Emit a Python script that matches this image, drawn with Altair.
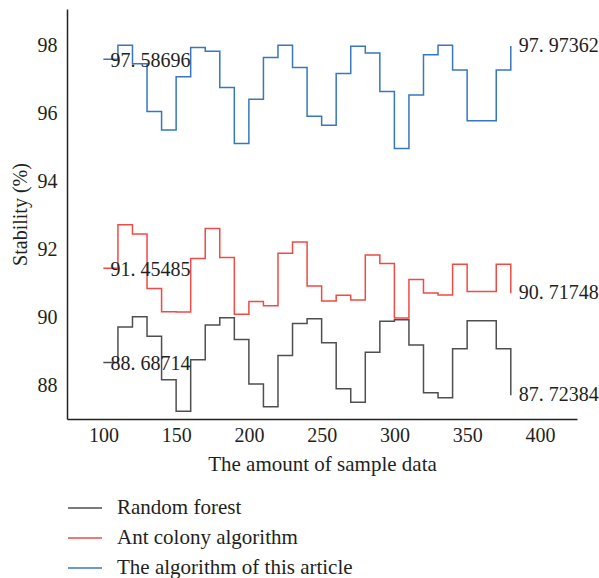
import altair as alt
import pandas as pd

# ---- data ----
x_vals = [100, 110, 120, 130, 140, 150, 160, 170, 180, 190, 200, 210, 220, 230, 240,
          250, 260, 270, 280, 290, 300, 310, 320, 330, 340, 350, 360, 370, 380]

random_forest = [88.68714, 89.73, 90.03, 89.46, 88.18, 87.26, 88.77, 89.79, 90.00, 89.36,
                 88.06, 87.39, 88.89, 89.83, 89.97, 89.27, 87.92, 87.52, 88.99, 89.90,
                 89.94, 89.20, 87.80, 87.65, 89.09, 89.91, 89.91, 89.09, 87.72384]

ant_colony = [91.45485, 92.73, 92.46, 90.86, 90.18, 90.17, 91.74, 92.62, 91.77, 90.10,
              90.48, 90.35, 91.89, 92.22, 90.93, 90.49, 90.66, 90.52, 91.84, 91.59,
              89.99, 91.12, 90.73, 90.67, 91.57, 90.77, 90.77, 91.57, 90.71748]

this_article = [97.58696, 98.00, 97.45, 96.05, 95.51, 97.07, 97.93, 97.82, 96.76, 95.11,
                96.41, 97.64, 98.00, 97.34, 95.91, 95.65, 97.17, 97.97, 97.77, 96.64,
                94.97, 96.54, 97.72, 98.00, 97.27, 95.78, 95.78, 97.27, 97.97362]

series_names = ["Random forest", "Ant colony algorithm", "The algorithm of this article"]
series_colors = ["#4f4f4f", "#ee4b45", "#3677c0"]
start_labels = ["88. 68714", "91. 45485", "97. 58696"]
end_labels = ["87. 72384", "90. 71748", "97. 97362"]

x_ticks = [100, 150, 200, 250, 300, 350, 400]
y_ticks = [88, 90, 92, 94, 96, 98]

# ---- build table ----
rows = []
for name, vals, sl, el in zip(series_names, [random_forest, ant_colony, this_article],
                              start_labels, end_labels):
    for i, (x, v) in enumerate(zip(x_vals, vals)):
        lab = sl if i == 0 else (el if i == len(x_vals) - 1 else "")
        pos = "start" if i == 0 else ("end" if i == len(x_vals) - 1 else "mid")
        rows.append({"x": x, "value": v, "series": name, "label": lab, "pos": pos})
df = pd.DataFrame(rows)

FONT = "Liberation Serif"
TXT = "#231f20"
FS = 20

xscale = alt.Scale(domain=[75, 425.5], nice=False, zero=False)
yscale = alt.Scale(domain=[87.03, 99.06], nice=False, zero=False)

common_axis = dict(grid=False, ticks=False, tickSize=0, labelFontSize=FS,
                   titleFontWeight="normal", labelFont=FONT,
                   titleFont=FONT, labelColor=TXT, titleColor=TXT,
                   domainColor="#222222", domainWidth=1.5, labelFlush=False)

x_enc = alt.X("x:Q", scale=xscale,
              axis=alt.Axis(values=x_ticks, title="The amount of sample data",
                            labelPadding=6, titleBaseline="alphabetic", titleY=51,
                            titleFontSize=21, **common_axis))
y_enc = alt.Y("value:Q", scale=yscale,
              axis=alt.Axis(values=y_ticks, title="Stability (%)", labelPadding=10,
                            titleX=-47, titleBaseline="middle", titleFontSize=FS,
                            **common_axis))

color_enc = alt.Color("series:N",
                      scale=alt.Scale(domain=series_names, range=series_colors),
                      legend=alt.Legend(title=None, orient="none", legendX=0, legendY=489,
                                        symbolType="stroke", symbolSize=1156,
                                        symbolStrokeWidth=1.6, labelFontSize=21,
                                        labelFont=FONT, labelOffset=14, clipHeight=20,
                                        rowPadding=9, padding=0, labelColor=TXT,
                                        labelLimit=400))

lines = alt.Chart(df).mark_line(interpolate="step-after", strokeWidth=1.5).encode(
    x=x_enc, y=y_enc, color=color_enc, detail="series:N"
)

start_text = alt.Chart(df).transform_filter(alt.datum.pos == "start").mark_text(
    align="left", baseline="middle", dx=7, dy=1.5, fontSize=FS, font=FONT, color=TXT
).encode(x="x:Q", y="value:Q", text="label:N")

end_text = alt.Chart(df).transform_filter(alt.datum.pos == "end").mark_text(
    align="left", baseline="middle", dx=8, dy=0, fontSize=FS, font=FONT, color=TXT
).encode(x="x:Q", y="value:Q", text="label:N")

chart = alt.layer(lines, start_text, end_text).properties(
    width=510, height=410,
    background="white",
    autosize=alt.AutoSizeParams(type="none"),
    padding={"left": 67, "top": 9, "right": 22, "bottom": 159},
).configure_view(strokeWidth=0, stroke="transparent")

chart.save("out.html", embed_options={"renderer": "svg", "actions": False})
